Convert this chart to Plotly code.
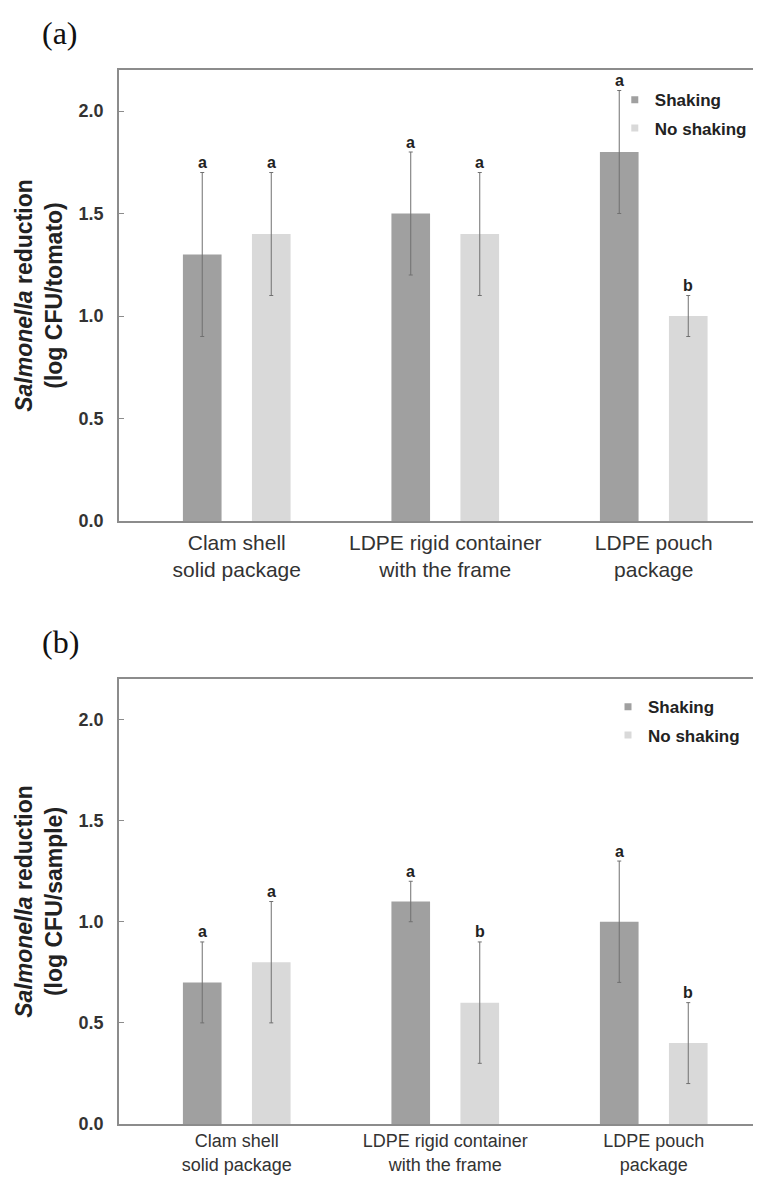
import plotly.graph_objects as go

categories = ["Clam shell<br>solid package", "LDPE rigid container<br>with the frame", "LDPE pouch<br>package"]
series_names = ["Shaking", "No shaking"]

a_shaking = [1.3, 1.5, 1.8]
a_shaking_err = [0.4, 0.3, 0.3]
a_noshaking = [1.4, 1.4, 1.0]
a_noshaking_err = [0.3, 0.3, 0.1]
a_letters_shaking = ["a", "a", "a"]
a_letters_noshaking = ["a", "a", "b"]

b_shaking = [0.7, 1.1, 1.0]
b_shaking_err = [0.2, 0.1, 0.3]
b_noshaking = [0.8, 0.6, 0.4]
b_noshaking_err = [0.3, 0.3, 0.2]
b_letters_shaking = ["a", "a", "a"]
b_letters_noshaking = ["a", "b", "b"]

y_ticks = [0.0, 0.5, 1.0, 1.5, 2.0]

DARK = "#a0a0a0"
LIGHT = "#d9d9d9"
ERR = "#707070"
AXIS = "#8c8c8c"
FONT = "Liberation Sans, Arial, sans-serif"
SERIF = "Liberation Serif, Times New Roman, serif"

fig = go.Figure()

def add_panel(xa, ya, legend, sh, she, ns, nse):
    fig.add_trace(go.Bar(x=categories, y=sh, name=series_names[0], marker_color=DARK,
                         marker_line_width=0, xaxis=xa, yaxis=ya, showlegend=False,
                         error_y=dict(type="data", array=she, visible=True, color=ERR,
                                      thickness=1, width=2)))
    fig.add_trace(go.Bar(x=categories, y=ns, name=series_names[1], marker_color=LIGHT,
                         marker_line_width=0, xaxis=xa, yaxis=ya, showlegend=False,
                         error_y=dict(type="data", array=nse, visible=True, color=ERR,
                                      thickness=1, width=2)))
    # legend-only entries with small square swatches
    for name, col in zip(series_names, [DARK, LIGHT]):
        fig.add_trace(go.Scatter(x=[None], y=[None], mode="markers", name="<b>%s</b>" % name,
                                 marker=dict(symbol="square", size=7, color=col),
                                 legendgroup=legend + name,
                                 xaxis=xa, yaxis=ya, legend=legend, showlegend=True))

add_panel("x", "y", "legend", a_shaking, a_shaking_err, a_noshaking, a_noshaking_err)
add_panel("x2", "y2", "legend2", b_shaking, b_shaking_err, b_noshaking, b_noshaking_err)

def add_letters(xref, yref, vals, errs, letters, shift):
    for i, (v, e, l) in enumerate(zip(vals, errs, letters)):
        fig.add_annotation(x=i, y=v + e, xref=xref, yref=yref, text="<b>%s</b>" % l,
                           showarrow=False, xshift=shift, yshift=10, yanchor="middle",
                           font=dict(family=FONT, size=16, color="#222"))

add_letters("x", "y", a_shaking, a_shaking_err, a_letters_shaking, -34.5)
add_letters("x", "y", a_noshaking, a_noshaking_err, a_letters_noshaking, 34.5)
add_letters("x2", "y2", b_shaking, b_shaking_err, b_letters_shaking, -34.5)
add_letters("x2", "y2", b_noshaking, b_noshaking_err, b_letters_noshaking, 34.5)

xcommon = dict(range=[-0.5647, 2.476], showline=True, linecolor=AXIS, linewidth=1.5,
               mirror=True, ticks="", showgrid=False, zeroline=False, automargin=False)
ycommon = dict(range=[0, 2.2], tickvals=y_ticks, ticktext=["<b>%.1f</b>" % t for t in y_ticks],
               showline=True, linecolor=AXIS, linewidth=1.5, ticks="inside",
               ticklen=5, tickcolor=AXIS, showgrid=False, zeroline=False,
               ticklabelstandoff=10, automargin=False,
               tickfont=dict(family=FONT, size=18, color="#333"))

PH = 1054  # plot-area height in px (top 62, bottom 1116)

fig.update_layout(
    width=745, height=1168,
    margin=dict(l=111, r=0, t=62, b=52, autoexpand=False),
    paper_bgcolor="white", plot_bgcolor="white",
    barmode="group", bargap=0.338, bargroupgap=0.44,
    xaxis=dict(domain=[0, 1], anchor="y", ticklabelstandoff=2,
               tickfont=dict(family=FONT, size=21, color="#333"), **xcommon),
    yaxis=dict(domain=[(1116 - 513) / PH, 1], anchor="x",
               title=dict(text="<b><i>Salmonella</i> reduction<br>(log CFU/tomato)</b>",
                          font=dict(family=FONT, size=23, color="#222"), standoff=10),
               **ycommon),
    xaxis2=dict(domain=[0, 1], anchor="y2", ticklabelstandoff=0,
                tickfont=dict(family=FONT, size=18, color="#333"), **xcommon),
    yaxis2=dict(domain=[0, (1116 - 671) / PH], anchor="x2",
                title=dict(text="<b><i>Salmonella</i> reduction<br>(log CFU/sample)</b>",
                           font=dict(family=FONT, size=23, color="#222"), standoff=10),
                **ycommon),
    legend=dict(x=0.782, y=1 - (74.3 - 62) / PH, xanchor="left", yanchor="top",
                bgcolor="rgba(0,0,0,0)", font=dict(family=FONT, size=17, color="#222"),
                itemwidth=30, tracegroupgap=3),
    legend2=dict(x=0.7713, y=(1116 - 681.3) / PH, xanchor="left", yanchor="top",
                 bgcolor="rgba(0,0,0,0)", font=dict(family=FONT, size=17, color="#222"),
                 itemwidth=30, tracegroupgap=3),
    showlegend=True,
)

fig.add_annotation(text="(a)", x=(52 - 111) / 634, y=1 + (62 - 25) / PH,
                   xref="paper", yref="paper", xanchor="center", yanchor="middle",
                   showarrow=False, font=dict(family=SERIF, size=32, color="#111"))
fig.add_annotation(text="(b)", x=(52 - 111) / 634, y=(1116 - 634) / PH,
                   xref="paper", yref="paper", xanchor="center", yanchor="middle",
                   showarrow=False, font=dict(family=SERIF, size=32, color="#111"))

fig.write_html("out.html")
